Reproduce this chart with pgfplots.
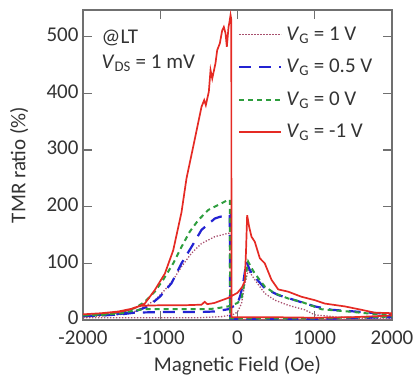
\documentclass[border=0pt]{standalone}
\usepackage{pgfplots}
\pgfplotsset{compat=1.18}
\usepackage{fontspec}
\setmainfont{Carlito}
\definecolor{cred}{HTML}{E52A24}
\definecolor{cblue}{HTML}{2323D2}
\definecolor{cgreen}{HTML}{2E9E3E}
\definecolor{cpurp}{HTML}{A8506E}
\definecolor{axgray}{HTML}{707070}
\definecolor{txt}{HTML}{333333}
\newcommand{\fs}{\fontsize{21}{24}\selectfont}
\begin{document}
\begin{tikzpicture}
\begin{axis}[
  scale only axis, width=309pt, height=310pt,
  xmin=-2000, xmax=2000, ymin=0, ymax=547,
  xtick={-2000,-1000,0,1000,2000},
  ytick={0,100,200,300,400,500},
  tick align=inside, major tick length=9pt,
  axis line style={axgray, line width=1.2pt},
  tick style={axgray, line width=1.2pt},
  every tick label/.append style={font=\fs, text=txt},
  xticklabel style={yshift=-10pt, inner sep=1pt},
  yticklabel style={xshift=-1pt, yshift=2pt},
  /pgf/number format/assume math mode=true,
  /pgf/number format/1000 sep={},
  xlabel={Magnetic Field (Oe)}, ylabel={TMR ratio (\%)},
  every axis x label/.style={at={(rel axis cs:0.5,-0.165)}, anchor=base, font=\fs, text=txt},
  every axis y label/.style={at={(rel axis cs:-0.207,0.5)}, rotate=90, anchor=center, font=\fs, text=txt},
  legend style={at={(rel axis cs:0.492,0.958)}, anchor=north west, draw=none, fill=none, font=\fs, text=txt,
    nodes={inner sep=0pt, text height=15pt, text depth=4pt}, row sep=13.5pt, column sep=4pt},
  legend cell align=left,
  legend image code/.code={\draw[#1] (0pt,0pt) -- (42pt,0pt);},
]
\addplot[cpurp, line width=1.3pt, dash pattern=on 1.3pt off 1.7pt] coordinates {
(-2000,4) (-1500,4) (-1000,4) (-500,4) (-200,6) (-50,10) (0,14) (52,29) (90,60) (138,88) (180,80) (224,71) (353,47) (483,35) (656,26) (871,18) (1000,9) (1303,5) (2000,4)
(2000,2) (1000,1) (400,1) (0,1) (-95,1) (-100,153) (-120,153) (-294,147) (-466,135) (-595,118) (-725,94) (-832,71) (-940,53) (-1070,35) (-1200,24) (-1329,15) (-1500,10) (-1760,7) (-2000,5)
};
\addlegendentry{\textit{V}\textsubscript{G} = 1 V}
\addplot[cblue, line width=2.2pt, dash pattern=on 12pt off 8pt] coordinates {
(-2000,7) (-1760,8) (-1500,10) (-1330,13) (-1000,14) (-500,14) (-300,15) (-120,19) (0,28) (40,45) (73,65) (116,103) (160,88) (224,76) (353,56) (527,44) (742,35) (1000,24) (1216,18) (1519,15) (2000,10)
(2000,5) (1000,2) (400,2) (0,2) (-95,2) (-100,185) (-120,185) (-229,182) (-294,179) (-466,159) (-595,129) (-725,100) (-854,65) (-1005,41) (-1156,24) (-1329,15) (-1500,11) (-2000,8)
};
\addlegendentry{\textit{V}\textsubscript{G} = 0.5 V}
\addplot[cgreen, line width=2pt, dash pattern=on 5pt off 4pt] coordinates {
(-2000,8) (-1760,9) (-1500,12) (-1330,17) (-1200,19) (-800,19) (-466,19) (-300,20) (-120,24) (0,30) (52,38) (95,70) (138,103) (180,92) (224,82) (353,59) (483,47) (656,38) (828,32) (1087,19) (1432,15) (1734,11) (2000,10)
(2000,6) (1000,3) (400,3) (0,3) (-95,3) (-100,212) (-120,212) (-250,203) (-380,194) (-509,176) (-617,156) (-725,129) (-832,100) (-962,71) (-1070,50) (-1200,32) (-1329,21) (-1500,14) (-1760,10) (-2000,9)
};
\addlegendentry{\textit{V}\textsubscript{G} = 0 V}
\addplot[cred, line width=1.7pt] coordinates {
(-2000,10) (-1760,12) (-1544,14) (-1400,18) (-1330,22) (-1250,25) (-1000,26) (-700,26) (-466,27) (-425,32) (-390,28) (-300,30) (-120,39) (0,48) (60,58) (93,68) (110,120) (125,185) (150,165) (181,147) (224,138) (289,109) (353,100) (440,71) (527,54) (656,50) (828,41) (1000,35) (1130,29) (1389,24) (1605,18) (1773,13) (2000,12)
(2000,8) (1500,5) (1000,4) (400,5) (0,5) (-78,5) (-80,530) (-90,538) (-105,525) (-116,517) (-138,482) (-155,506) (-177,517) (-198,511) (-229,488) (-263,476) (-285,453) (-327,426) (-349,441) (-371,403) (-410,379) (-431,388) (-466,376) (-573,306) (-660,250) (-725,190) (-832,123) (-940,82) (-1070,53) (-1200,29) (-1329,21) (-1544,15) (-1760,12) (-2000,10)
};
\addlegendentry{\textit{V}\textsubscript{G} = -1 V}
\node[anchor=base west, inner sep=0pt, font=\fs, text=txt] at (axis cs:-1760,488) {@LT};
\node[anchor=base west, inner sep=0pt, font=\fs, text=txt] at (axis cs:-1760,444) {\textit{V}\textsubscript{DS} = 1 mV};
\end{axis}
\pgfresetboundingbox
\path (current axis.south west) ++(-83pt,-58pt) rectangle ++(413pt,378pt);
\end{tikzpicture}
\end{document}
